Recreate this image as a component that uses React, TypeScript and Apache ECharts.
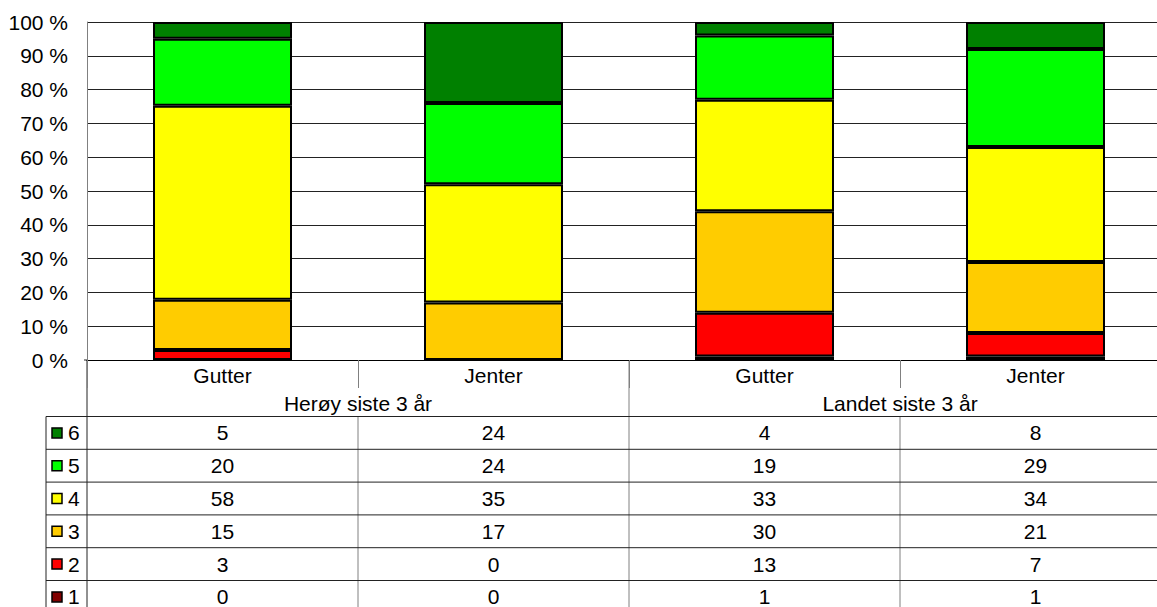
import React, { useEffect, useRef } from "react";
import * as echarts from "echarts";

const categories = ["Gutter", "Jenter", "Gutter", "Jenter"];
const groups = ["Herøy siste 3 år", "Landet siste 3 år"];
const levels = ["6", "5", "4", "3", "2", "1"];
const level6 = [5, 24, 4, 8];
const level5 = [20, 24, 19, 29];
const level4 = [58, 35, 33, 34];
const level3 = [15, 17, 30, 21];
const level2 = [3, 0, 13, 7];
const level1 = [0, 0, 1, 1];
const yTicks = [0, 10, 20, 30, 40, 50, 60, 70, 80, 90, 100];

const levelColors: Record<string, string> = {
  "6": "#008000",
  "5": "#00ff00",
  "4": "#ffff00",
  "3": "#ffcc00",
  "2": "#ff0000",
  "1": "#800000",
};

const FONT = "'Liberation Sans', Arial, sans-serif";
const FS = 21;

export default function App() {
  const ref = useRef<HTMLDivElement>(null);
  useEffect(() => {
    if (!ref.current) return;
    const chart = echarts.init(ref.current, null, { renderer: "svg" });
    const rows: Record<string, number[]> = {
      "6": level6,
      "5": level5,
      "4": level4,
      "3": level3,
      "2": level2,
      "1": level1,
    };
    const totals = categories.map((_, i) =>
      levels.reduce((s, l) => s + rows[l][i], 0)
    );
    const stackOrder = [...levels].reverse();
    const series = stackOrder.map((l) => ({
      name: l,
      type: "bar",
      stack: "all",
      barWidth: 139,
      data: rows[l].map((v, i) => (v / totals[i]) * 100),
      itemStyle: { color: levelColors[l], borderColor: "#000", borderWidth: 2 },
    }));
    chart.setOption({
      animation: false,
      textStyle: { fontFamily: FONT },
      grid: { left: 87, top: 22, width: 1084, height: 338, outerBoundsMode: "none", containLabel: false },
      xAxis: {
        type: "category",
        data: categories,
        axisLine: { lineStyle: { color: "#000", width: 1 } },
        axisTick: { show: true, length: 28, interval: 0, lineStyle: { color: "#808080" } },
        axisLabel: { fontSize: FS, color: "#000", margin: 5, fontFamily: FONT },
        splitLine: { show: false },
      },
      yAxis: {
        type: "value",
        min: yTicks[0],
        max: yTicks[yTicks.length - 1],
        interval: 10,
        axisLine: { show: true, lineStyle: { color: "#808080" } },
        axisTick: { show: false },
        axisLabel: {
          fontSize: FS,
          color: "#000",
          margin: 19,
          fontFamily: FONT,
          formatter: "{value} %",
        },
        splitLine: { show: true, lineStyle: { color: "#222", width: 1 } },
      },
      series,
    });

    const c0 = chart.convertToPixel({ xAxisIndex: 0 }, 0) as number;
    const c1 = chart.convertToPixel({ xAxisIndex: 0 }, 1) as number;
    const band = c1 - c0;
    const bounds = [0, 1, 2, 3, 4].map((i) => c0 - band / 2 + i * band);
    const centers = categories.map((_, i) => c0 + i * band);
    const yBase = chart.convertToPixel({ yAxisIndex: 0 }, 0) as number;
    const tableTop = yBase + 56.5;
    const rowH = 32.8;
    const legendLeft = 46;
    const bottom = tableTop + rowH * levels.length + 10;
    const right = bounds[4];

    const g: any[] = [];
    groups.forEach((name, gi) => {
      g.push({
        type: "text",
        x: (bounds[gi * 2] + bounds[gi * 2 + 2]) / 2,
        y: yBase + 43,
        style: {
          text: name,
          font: `${FS}px ${FONT}`,
          fill: "#000",
          align: "center",
          verticalAlign: "middle",
        },
      });
    });
    g.push({
      type: "line",
      shape: { x1: bounds[0], y1: yBase, x2: bounds[0], y2: bottom },
      style: { stroke: "#222", lineWidth: 1 },
    });
    g.push({
      type: "line",
      shape: { x1: bounds[0] - 3, y1: yBase, x2: bounds[0], y2: yBase },
      style: { stroke: "#222", lineWidth: 1 },
    });
    g.push({
      type: "line",
      shape: { x1: bounds[2], y1: yBase, x2: bounds[2], y2: bottom },
      style: { stroke: "#808080", lineWidth: 1 },
    });
    [1, 3].forEach((b) =>
      g.push({
        type: "line",
        shape: { x1: bounds[b], y1: tableTop, x2: bounds[b], y2: bottom },
        style: { stroke: "#808080", lineWidth: 1 },
      })
    );
    g.push({
      type: "line",
      shape: { x1: legendLeft, y1: tableTop, x2: legendLeft, y2: bottom },
      style: { stroke: "#222", lineWidth: 1 },
    });
    for (let r = 0; r <= levels.length; r++) {
      const y = tableTop + r * rowH;
      g.push({
        type: "line",
        shape: { x1: legendLeft, y1: y, x2: right, y2: y },
        style: { stroke: "#222", lineWidth: 1 },
      });
    }
    levels.forEach((l, r) => {
      const yc = tableTop + r * rowH + rowH / 2;
      g.push({
        type: "rect",
        shape: { x: legendLeft + 6, y: yc - 5, width: 10, height: 10 },
        style: { fill: levelColors[l], stroke: "#000", lineWidth: 1.5 },
      });
      g.push({
        type: "text",
        x: legendLeft + 22,
        y: yc,
        style: {
          text: l,
          font: `${FS}px ${FONT}`,
          lineHeight: 18,
          fill: "#000",
          align: "left",
          verticalAlign: "middle",
        },
      });
      rows[l].forEach((v, i) => {
        g.push({
          type: "text",
          x: centers[i],
          y: yc,
          style: {
            text: String(v),
            font: `${FS}px ${FONT}`,
            lineHeight: 18,
            fill: "#000",
            align: "center",
            verticalAlign: "middle",
          },
        });
      });
    });
    chart.setOption({ graphic: g });
    return () => chart.dispose();
  }, []);
  return (
    <div
      ref={ref}
      style={{ position: "absolute", left: 0, top: 0, width: 1157, height: 607, background: "#fff" }}
    />
  );
}
